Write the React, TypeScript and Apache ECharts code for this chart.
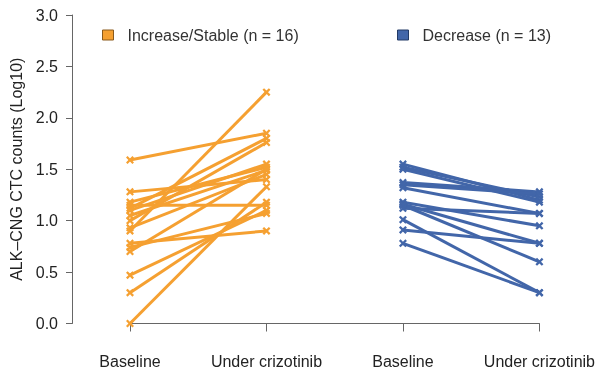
import React, { useEffect, useRef } from "react";
import * as echarts from "echarts";

const xCategories = ["Baseline", "Under crizotinib", "Baseline", "Under crizotinib"];
const yTicks = [0, 0.5, 1.0, 1.5, 2.0, 2.5, 3.0];

const incName = "Increase/Stable (n = 16)";
const decName = "Decrease (n = 13)";

const incBaseline = [1.59, 0.9, 0.0, 0.3, 0.47, 0.78, 1.28, 1.18, 1.15, 1.12, 1.1, 1.05, 1.0, 0.93, 0.74, 0.7];
const incUnder = [1.85, 2.25, 1.33, 1.18, 1.1, 0.9, 1.4, 1.52, 1.15, 1.8, 1.55, 1.49, 1.76, 1.45, 1.07, 1.5];

const decBaseline = [1.55, 1.52, 1.5, 1.37, 1.35, 1.32, 1.18, 1.16, 1.15, 1.12, 1.01, 0.91, 0.78];
const decUnder = [1.2, 1.23, 1.18, 1.28, 1.26, 1.07, 0.95, 0.78, 0.6, 1.07, 0.3, 0.78, 0.3];

const ORANGE = "#F5A031";
const BLUE = "#4266A9";
const X_SYMBOL = "path://M2,0 L5,3 L8,0 L10,2 L7,5 L10,8 L8,10 L5,7 L2,10 L0,8 L3,5 L0,2 Z";
const FONT = "Liberation Sans";
const FS = 16;

export default function App() {
  const ref = useRef<HTMLDivElement>(null);
  useEffect(() => {
    if (!ref.current) return;
    const chart = echarts.init(ref.current, undefined, { renderer: "svg" });
    const mk = (name: string, color: string, b: number[], u: number[], x0: number) =>
      b.map((v, i) => ({
        type: "line",
        name,
        data: [
          [x0, v],
          [x0 + 1, u[i]],
        ],
        clip: false,
        symbol: X_SYMBOL,
        symbolSize: 8,
        lineStyle: { color, width: 3 },
        itemStyle: { color },
        emphasis: { disabled: true },
      }));
    const series = [...mk(incName, ORANGE, incBaseline, incUnder, 1), ...mk(decName, BLUE, decBaseline, decUnder, 3)];
    const legendText = { color: "#333", fontSize: FS, fontFamily: FONT, padding: [0, 0, 0, 9] };
    chart.setOption({
      animation: false,
      textStyle: { fontFamily: FONT },
      grid: { left: 130, right: 56, top: 15, bottom: 52.5 },
      legend: [
        {
          left: 97,
          top: 22,
          icon: "rect",
          itemWidth: 11,
          itemHeight: 10,
          data: [{ name: incName, itemStyle: { color: ORANGE, borderColor: "#8a5a1c", borderWidth: 1 } }],
          textStyle: legendText,
          selectedMode: false,
        },
        {
          left: 392,
          top: 22,
          icon: "rect",
          itemWidth: 11,
          itemHeight: 10,
          data: [{ name: decName, itemStyle: { color: BLUE, borderColor: "#223a66", borderWidth: 1 } }],
          textStyle: legendText,
          selectedMode: false,
        },
      ],
      xAxis: {
        type: "value",
        min: 1,
        max: 4,
        interval: 1,
        offset: 11,
        axisLine: { show: true, lineStyle: { color: "#666", width: 1 } },
        axisTick: { show: true, length: 8, lineStyle: { color: "#666" } },
        splitLine: { show: false },
        axisLabel: {
          margin: 19,
          color: "#222",
          fontSize: FS,
          formatter: (v: number) => xCategories[Math.round(v) - 1] ?? "",
        },
      },
      yAxis: {
        type: "value",
        min: yTicks[0],
        max: yTicks[yTicks.length - 1],
        interval: 0.5,
        offset: 58,
        name: "ALK\u2013CNG CTC counts (Log10)",
        nameLocation: "middle",
        nameGap: 43,
        nameTextStyle: { color: "#222", fontSize: FS },
        axisLine: { show: true, lineStyle: { color: "#666", width: 1 } },
        axisTick: { show: true, length: 6, lineStyle: { color: "#666" } },
        splitLine: { show: false },
        axisLabel: {
          margin: 14,
          color: "#222",
          fontSize: FS,
          formatter: (v: number) => v.toFixed(1),
        },
      },
      series,
    });
    return () => chart.dispose();
  }, []);
  return <div ref={ref} style={{ position: "fixed", left: 0, top: 0, width: 598, height: 376 }} />;
}
